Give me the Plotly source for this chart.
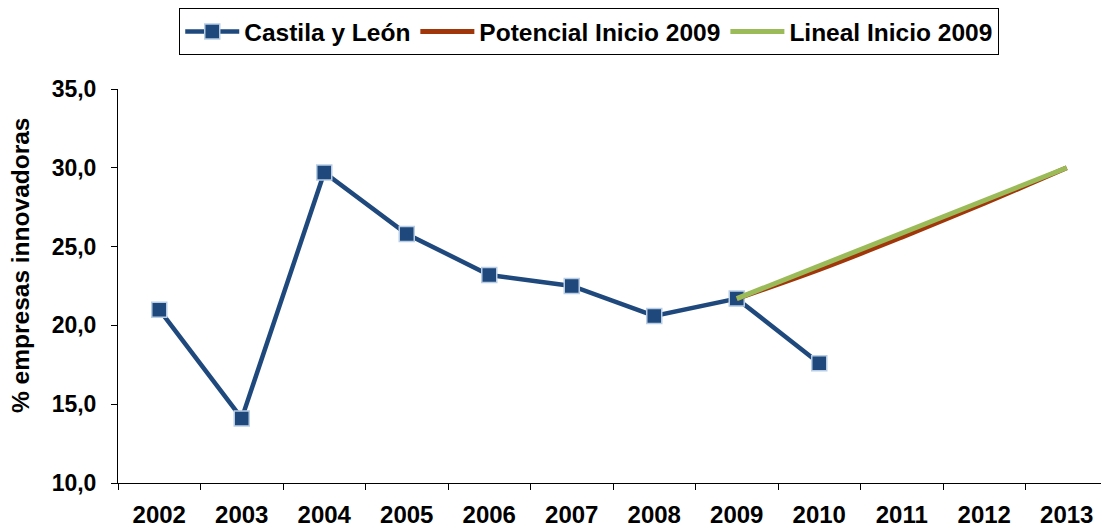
import plotly.graph_objects as go

years = ["2002", "2003", "2004", "2005", "2006", "2007", "2008", "2009", "2010", "2011", "2012", "2013"]
cyl_years = ["2002", "2003", "2004", "2005", "2006", "2007", "2008", "2009", "2010"]
cyl_values = [21.0, 14.1, 29.7, 25.8, 23.2, 22.5, 20.6, 21.7, 17.6]
trend_years = ["2009", "2010", "2011", "2012", "2013"]
potencial_values = [21.7, 23.55, 25.6, 27.75, 30.0]
lineal_values = [21.7, 23.78, 25.85, 27.93, 30.0]
y_ticks = [10, 15, 20, 25, 30, 35]
y_ticklabels = ["10,0", "15,0", "20,0", "25,0", "30,0", "35,0"]

FONT = "Liberation Sans, Arial, sans-serif"

# The page body has an 8px margin, so the figure sits at (8, 8) in the window.
fig = go.Figure()
fig.add_trace(go.Scatter(
    x=cyl_years, y=cyl_values, name="Castila y León", mode="lines+markers",
    line=dict(color="#1F497D", width=4.5),
    marker=dict(symbol="square", size=15, color="#1F497D",
                line=dict(color="#B9CDE5", width=1.5)),
))
fig.add_trace(go.Scatter(
    x=trend_years, y=potencial_values, name="Potencial Inicio 2009", mode="lines",
    line=dict(color="#A0360A", width=5, shape="spline"),
))
fig.add_trace(go.Scatter(
    x=trend_years, y=lineal_values, name="Lineal Inicio 2009", mode="lines",
    line=dict(color="#9BBB59", width=5),
))

fig.update_layout(
    width=1109, height=530,
    margin=dict(l=110, r=9, t=81, b=55, autoexpand=False),
    paper_bgcolor="white", plot_bgcolor="white",
    font=dict(family=FONT, size=22, color="black"),
    showlegend=True,
    legend=dict(
        orientation="h", x=0.476, xanchor="center", y=1.2056, yanchor="top",
        bordercolor="black", borderwidth=1, bgcolor="white",
        font=dict(family=FONT, size=24.5, color="black", weight="bold"),
        itemwidth=54, tracegroupgap=0,
    ),
    xaxis=dict(
        type="category", categoryorder="array", categoryarray=years,
        range=[-0.5, 11.5], showgrid=False, zeroline=False, automargin=False,
        showline=True, linecolor="black", linewidth=1,
        ticks="outside", tickson="boundaries", ticklen=6, tickcolor="black",
        ticklabelstandoff=10,
        tickfont=dict(family=FONT, size=24, color="black", weight="bold"),
    ),
    yaxis=dict(
        range=[10, 35], tickvals=y_ticks, ticktext=y_ticklabels,
        showgrid=False, zeroline=False, automargin=False,
        showline=True, linecolor="black", linewidth=1,
        ticks="outside", ticklen=6, tickcolor="black",
        ticklabelstandoff=10,
        tickfont=dict(family=FONT, size=23, color="black", weight="bold"),
    ),
    annotations=[dict(
        text="% empresas innovadoras", textangle=-90,
        xref="paper", yref="paper", x=(20 - 118) / 990, y=(483 - 266) / 394,
        xanchor="center", yanchor="middle", showarrow=False,
        font=dict(family=FONT, size=24.5, color="black", weight="bold"),
    )],
)

fig.write_html("out.html")
